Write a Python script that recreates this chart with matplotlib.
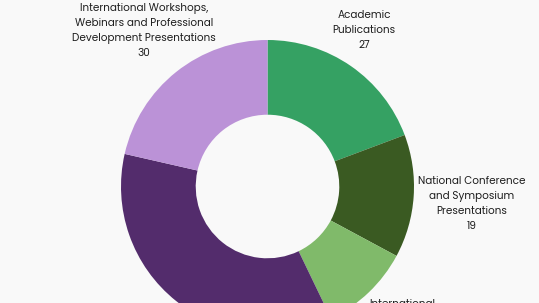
import matplotlib.pyplot as plt
import numpy as np

labels = ["Academic\nPublications",
          "National Conference\nand Symposium\nPresentations",
          "International\nConference\nPresentations",
          "National Workshops\nand Seminars",
          "International Workshops,\nWebinars and Professional\nDevelopment Presentations"]
values = [27, 19, 14, 50, 30]
colors = ["#35a163", "#3a5a22", "#80ba6a", "#532c6c", "#bb92d7"]
label_dist = [1.255, 1.40, 1.33, 1.45, 1.355]
label_shift = [3, -1, 0, 0, 0]  # degrees

plt.rcParams['font.family'] = ['Poppins', 'Open Sans', 'DejaVu Sans']

fig = plt.figure(figsize=(5.39, 3.03), dpi=100, facecolor="#f9f9f9")
ax = fig.add_axes([0, 0, 1, 1])
ax.set_facecolor("#f9f9f9")

cx, cy, r = 267.5, 116.5, 146.5
wedges, _ = ax.pie(values, colors=colors, startangle=90, counterclock=False,
                   center=(cx, cy), radius=r,
                   wedgeprops=dict(width=r * 0.51, linewidth=0))

for w, lab, v, d, s in zip(wedges, labels, values, label_dist, label_shift):
    mid = np.deg2rad((w.theta1 + w.theta2) / 2 + s)
    x = cx + d * r * np.cos(mid)
    y = cy + d * r * np.sin(mid)
    ax.text(x, y, lab + "\n" + str(v), ha="center", va="center",
            fontsize=7.5, color="#1e1e1e", linespacing=1.5)

ax.set_xlim(0, 539)
ax.set_ylim(0, 303)
ax.axis("off")
fig.savefig("out.png", dpi=100, facecolor=fig.get_facecolor())
